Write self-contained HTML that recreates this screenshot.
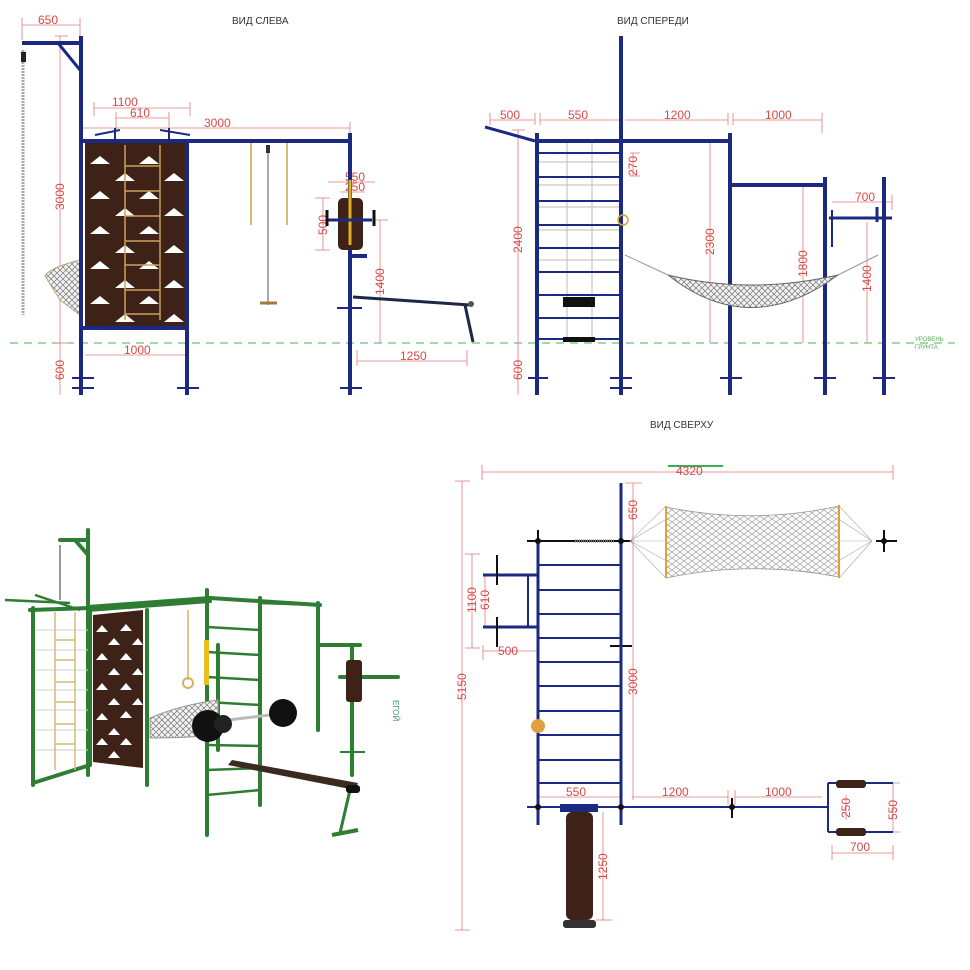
<!DOCTYPE html>
<html><head><meta charset="utf-8"><style>
html,body{margin:0;padding:0;background:#fff;}
svg{display:block;font-family:"Liberation Sans","DejaVu Sans",sans-serif;}
.n{stroke:#1b2a80;fill:none;}
.d{stroke:#e07a7a;stroke-width:0.8;fill:none;}
.t{fill:#d84848;font-size:12px;}
.h{fill:#333;font-size:10px;}
.g{stroke:#2e7d32;fill:none;}
.tri{fill:#fff;}
</style></head><body>
<svg width="970" height="970" viewBox="0 0 970 970" xmlns="http://www.w3.org/2000/svg">
<defs>
<pattern id="net" width="6" height="6" patternUnits="userSpaceOnUse">
<rect width="6" height="6" fill="#f2f2f2"/>
<path d="M0 0 L6 6 M6 0 L0 6" stroke="#777" stroke-width="0.7"/>
</pattern>
<pattern id="net2" width="8" height="6" patternUnits="userSpaceOnUse">
<rect width="8" height="6" fill="#fafafa"/>
<path d="M0 0 L8 6 M8 0 L0 6" stroke="#999" stroke-width="0.6"/>
</pattern>
</defs>
<!-- titles -->
<text x="232" y="24" class="h">ВИД СЛЕВА</text>
<text x="617" y="24" class="h">ВИД СПЕРЕДИ</text>
<text x="650" y="428" class="h">ВИД СВЕРХУ</text>

<!-- ground line -->
<line x1="10" y1="343" x2="955" y2="343" stroke="#4caf50" stroke-width="1" stroke-dasharray="8,6"/>
<text x="915" y="341" fill="#4caf50" font-size="6">УРОВЕНЬ</text>
<text x="915" y="349" fill="#4caf50" font-size="6">ГРУНТА</text>

<!-- ===== LEFT VIEW ===== -->
<g class="d">
<line x1="22" y1="25" x2="80" y2="25"/><line x1="22" y1="18" x2="22" y2="40"/><line x1="80" y1="18" x2="80" y2="40"/>
<line x1="60" y1="36" x2="60" y2="395"/><line x1="55" y1="36" x2="68" y2="36"/><line x1="55" y1="343" x2="68" y2="343"/>
<line x1="94" y1="108" x2="190" y2="108"/><line x1="94" y1="102" x2="94" y2="116"/><line x1="190" y1="102" x2="190" y2="116"/>
<line x1="116" y1="118" x2="169" y2="118"/><line x1="116" y1="112" x2="116" y2="130"/><line x1="169" y1="112" x2="169" y2="130"/>
<line x1="83" y1="128" x2="350" y2="128"/><line x1="350" y1="122" x2="350" y2="134"/>
<line x1="85" y1="355" x2="187" y2="355"/>
<line x1="357" y1="361" x2="467" y2="361"/><line x1="357" y1="350" x2="357" y2="366"/><line x1="467" y1="350" x2="467" y2="366"/>
<line x1="380" y1="220" x2="380" y2="343"/><line x1="374" y1="220" x2="388" y2="220"/>
<line x1="323" y1="198" x2="323" y2="250"/><line x1="315" y1="198" x2="330" y2="198"/><line x1="315" y1="250" x2="330" y2="250"/>
<line x1="328" y1="182" x2="375" y2="182"/><line x1="340" y1="192" x2="365" y2="192"/>
</g>
<text x="38" y="24" class="t">650</text>
<text x="112" y="106" class="t">1100</text>
<text x="130" y="117" class="t">610</text>
<text x="204" y="127" class="t">3000</text>
<text x="124" y="354" class="t">1000</text>
<text x="400" y="360" class="t">1250</text>
<text x="345" y="181" class="t" font-size="10">550</text>
<text x="345" y="191" class="t" font-size="10">250</text>
<text class="t" transform="translate(64,210) rotate(-90)">3000</text>
<text class="t" transform="translate(64,380) rotate(-90)">600</text>
<text class="t" transform="translate(384,295) rotate(-90)">1400</text>
<text class="t" transform="translate(327,235) rotate(-90)" font-size="10">500</text>

<line x1="23" y1="50" x2="23" y2="315" stroke="#aaa" stroke-width="3" stroke-dasharray="2,1"/>
<rect x="21" y="52" width="5" height="10" fill="#222"/>
<path d="M80 260 C60 265 48 270 45 276 L60 300 L80 315 Z" fill="url(#net)" stroke="#b9a67a" stroke-width="1"/>
<g class="n" stroke-width="4">
<line x1="81" y1="36" x2="81" y2="395"/>
<line x1="22" y1="43" x2="81" y2="43"/>
<line x1="187" y1="140" x2="187" y2="395"/>
<line x1="81" y1="141" x2="350" y2="141"/>
<line x1="81" y1="328" x2="187" y2="328"/>
<line x1="350" y1="133" x2="350" y2="395"/>
</g>
<line x1="58" y1="43" x2="80" y2="70" stroke="#1b2a80" stroke-width="3"/>
<g stroke="#1b2a80" stroke-width="2">
<line x1="72" y1="378" x2="94" y2="378"/><line x1="72" y1="388" x2="94" y2="388"/>
<line x1="177" y1="388" x2="199" y2="388"/>
<line x1="340" y1="388" x2="362" y2="388"/><line x1="337" y1="308" x2="362" y2="308"/>
<line x1="95" y1="135" x2="120" y2="130"/><line x1="160" y1="130" x2="190" y2="135"/>
<line x1="115" y1="128" x2="115" y2="140"/><line x1="169" y1="128" x2="169" y2="140"/>
</g>
<rect x="85" y="143" width="100" height="183" fill="#3e2218"/>
<g class="tri">
<polygon points="90,164 100,156 110,164"/><polygon points="139,164 149,156 159,164"/>
<polygon points="90,199 100,191 110,199"/><polygon points="139,199 149,191 159,199"/>
<polygon points="90,234 100,226 110,234"/><polygon points="139,234 149,226 159,234"/>
<polygon points="90,269 100,261 110,269"/><polygon points="139,269 149,261 159,269"/>
<polygon points="90,304 100,296 110,304"/>
<polygon points="115,181 125,173 135,181"/><polygon points="164,181 174,173 184,181"/>
<polygon points="115,216 125,208 135,216"/><polygon points="164,216 174,208 184,216"/>
<polygon points="115,253 125,245 135,253"/><polygon points="164,253 174,245 184,253"/>
<polygon points="115,288 125,280 135,288"/><polygon points="164,288 174,280 184,288"/>
<polygon points="115,322 125,314 135,322"/><polygon points="164,322 174,314 184,322"/>
<polygon points="139,304 149,296 159,304"/>
</g>
<g stroke="#c9a25a" stroke-width="1.5">
<line x1="125" y1="145" x2="125" y2="320"/><line x1="160" y1="145" x2="160" y2="320"/>
<line x1="125" y1="166" x2="160" y2="166"/><line x1="125" y1="191" x2="160" y2="191"/><line x1="125" y1="216" x2="160" y2="216"/>
<line x1="125" y1="241" x2="160" y2="241"/><line x1="125" y1="265" x2="160" y2="265"/><line x1="125" y1="290" x2="160" y2="290"/><line x1="125" y1="314" x2="160" y2="314"/>
</g>
<line x1="251" y1="143" x2="251" y2="225" stroke="#c9a640" stroke-width="1.5"/>
<line x1="287" y1="143" x2="287" y2="225" stroke="#c9a640" stroke-width="1.5"/>
<line x1="268" y1="145" x2="268" y2="305" stroke="#555" stroke-width="1"/>
<rect x="266" y="145" width="4" height="8" fill="#333"/>
<line x1="260" y1="303" x2="277" y2="303" stroke="#a07a40" stroke-width="3"/>
<rect x="338" y="198" width="25" height="52" rx="5" fill="#3e2218"/>
<line x1="350" y1="180" x2="350" y2="245" stroke="#e0b020" stroke-width="3"/>
<line x1="327" y1="220" x2="372" y2="220" stroke="#1b2a80" stroke-width="3"/>
<line x1="327" y1="210" x2="327" y2="226" stroke="#111" stroke-width="3"/>
<line x1="374" y1="210" x2="374" y2="226" stroke="#111" stroke-width="3"/>
<line x1="352" y1="256" x2="367" y2="256" stroke="#1b2a80" stroke-width="4"/>
<line x1="353" y1="297" x2="470" y2="305" stroke="#1f2748" stroke-width="3"/>
<line x1="465" y1="305" x2="473" y2="342" stroke="#1f2748" stroke-width="3"/>
<circle cx="471" cy="304" r="3" fill="#555"/>

<!-- ===== FRONT VIEW ===== -->
<g class="d">
<line x1="490" y1="120" x2="535" y2="120"/><line x1="490" y1="113" x2="490" y2="125"/><line x1="535" y1="113" x2="535" y2="125"/>
<line x1="540" y1="120" x2="620" y2="120"/><line x1="540" y1="113" x2="540" y2="125"/><line x1="620" y1="113" x2="620" y2="125"/>
<line x1="625" y1="120" x2="728" y2="120"/><line x1="728" y1="113" x2="728" y2="125"/>
<line x1="733" y1="120" x2="822" y2="120"/><line x1="733" y1="113" x2="733" y2="125"/><line x1="822" y1="113" x2="822" y2="133"/>
<line x1="633" y1="153" x2="633" y2="176"/><line x1="630" y1="153" x2="640" y2="153"/><line x1="630" y1="176" x2="640" y2="176"/>
<line x1="710" y1="141" x2="710" y2="343"/><line x1="706" y1="141" x2="730" y2="141"/>
<line x1="803" y1="185" x2="803" y2="343"/>
<line x1="867" y1="222" x2="867" y2="343"/>
<line x1="518" y1="130" x2="518" y2="395"/><line x1="512" y1="130" x2="525" y2="130"/>
<line x1="832" y1="202" x2="892" y2="202"/><line x1="892" y1="195" x2="892" y2="210"/>
</g>
<text x="500" y="119" class="t">500</text>
<text x="568" y="119" class="t">550</text>
<text x="664" y="119" class="t">1200</text>
<text x="765" y="119" class="t">1000</text>
<text x="855" y="201" class="t">700</text>
<text class="t" transform="translate(637,176) rotate(-90)" font-size="10">270</text>
<text class="t" transform="translate(714,255) rotate(-90)">2300</text>
<text class="t" transform="translate(807,277) rotate(-90)">1800</text>
<text class="t" transform="translate(871,292) rotate(-90)">1400</text>
<text class="t" transform="translate(522,253) rotate(-90)">2400</text>
<text class="t" transform="translate(522,380) rotate(-90)">600</text>
<g stroke="#bbb" stroke-width="1">
<line x1="567" y1="140" x2="567" y2="340"/><line x1="592" y1="140" x2="592" y2="340"/>
<line x1="537" y1="162" x2="621" y2="162"/><line x1="537" y1="185" x2="621" y2="185"/><line x1="537" y1="207" x2="621" y2="207"/><line x1="537" y1="230" x2="621" y2="230"/><line x1="537" y1="260" x2="621" y2="260"/>
</g>
<g stroke="#1b2a80" stroke-width="2">
<line x1="537" y1="153" x2="621" y2="153"/><line x1="537" y1="177" x2="621" y2="177"/><line x1="537" y1="201" x2="621" y2="201"/><line x1="537" y1="225" x2="621" y2="225"/><line x1="537" y1="248" x2="621" y2="248"/><line x1="537" y1="272" x2="621" y2="272"/><line x1="537" y1="295" x2="621" y2="295"/><line x1="537" y1="318" x2="621" y2="318"/><line x1="537" y1="339" x2="621" y2="339"/>
<line x1="485" y1="127" x2="535" y2="141" stroke-width="3"/>
<line x1="528" y1="378" x2="548" y2="378"/><line x1="610" y1="378" x2="632" y2="378"/><line x1="610" y1="388" x2="632" y2="388"/>
<line x1="720" y1="378" x2="742" y2="378"/><line x1="814" y1="378" x2="836" y2="378"/><line x1="873" y1="378" x2="895" y2="378"/>
<line x1="829" y1="218" x2="892" y2="218" stroke-width="3"/>
<line x1="832" y1="210" x2="832" y2="247"/><line x1="877" y1="207" x2="877" y2="222" stroke-width="3"/>
</g>
<g class="n" stroke-width="4">
<line x1="537" y1="133" x2="537" y2="395"/>
<line x1="621" y1="36" x2="621" y2="395"/>
<line x1="537" y1="141" x2="730" y2="141"/>
<line x1="730" y1="133" x2="730" y2="395"/>
<line x1="730" y1="185" x2="825" y2="185"/>
<line x1="825" y1="177" x2="825" y2="395"/>
<line x1="884" y1="177" x2="884" y2="395"/>
</g>
<rect x="563" y="297" width="32" height="10" fill="#111"/>
<rect x="563" y="337" width="32" height="5" fill="#111"/>
<circle cx="623" cy="220" r="5" fill="none" stroke="#d8a030" stroke-width="1.5"/>
<path d="M625 255 L668 275 M878 255 L838 275" stroke="#999" stroke-width="1"/>
<path d="M668 275 Q750 340 838 275 Q750 295 668 275 Z" fill="url(#net)" stroke="#666" stroke-width="1"/>

<!-- ===== 3D VIEW ===== -->
<g class="g" stroke-width="4" stroke-linecap="round">
<line x1="88" y1="530" x2="88" y2="775"/>
<line x1="60" y1="540" x2="88" y2="540"/>
<line x1="75" y1="540" x2="88" y2="555"/>
<line x1="33" y1="608" x2="33" y2="785"/>
<line x1="147" y1="610" x2="147" y2="785"/>
<line x1="90" y1="608" x2="90" y2="765"/>
<line x1="30" y1="610" x2="90" y2="608"/>
<line x1="88" y1="607" x2="210" y2="598"/>
<line x1="88" y1="610" x2="210" y2="601"/>
<line x1="210" y1="598" x2="320" y2="605"/>
<line x1="207" y1="590" x2="207" y2="835"/>
<line x1="260" y1="598" x2="260" y2="805"/>
<line x1="318" y1="603" x2="318" y2="730"/>
<line x1="218" y1="645" x2="218" y2="750"/>
<line x1="320" y1="645" x2="360" y2="645"/>
<line x1="352" y1="645" x2="352" y2="775"/>
<line x1="340" y1="677" x2="398" y2="677"/>
<line x1="33" y1="783" x2="90" y2="765"/>
</g>
<g stroke="#2e7d32" stroke-width="2.5">
<line x1="207" y1="627" x2="260" y2="630"/><line x1="207" y1="652" x2="260" y2="655"/><line x1="207" y1="677" x2="260" y2="680"/><line x1="207" y1="702" x2="260" y2="705"/><line x1="207" y1="745" x2="260" y2="746"/><line x1="207" y1="770" x2="260" y2="768"/><line x1="207" y1="795" x2="260" y2="790"/>
<line x1="260" y1="603" x2="320" y2="605"/>
<line x1="5" y1="600" x2="70" y2="603"/><line x1="35" y1="595" x2="80" y2="610"/>
</g>
<g stroke="#ccc" stroke-width="1">
<line x1="36" y1="630" x2="88" y2="630"/><line x1="36" y1="650" x2="88" y2="650"/><line x1="36" y1="670" x2="88" y2="670"/><line x1="36" y1="690" x2="88" y2="690"/><line x1="36" y1="710" x2="88" y2="710"/><line x1="36" y1="730" x2="88" y2="730"/><line x1="36" y1="750" x2="88" y2="750"/>
<line x1="60" y1="545" x2="60" y2="600" stroke="#999" stroke-width="2"/>
</g>
<g stroke="#d8b878" stroke-width="1.5">
<line x1="55" y1="612" x2="55" y2="770"/><line x1="75" y1="612" x2="75" y2="770"/>
<line x1="55" y1="640" x2="75" y2="640"/><line x1="55" y1="660" x2="75" y2="660"/><line x1="55" y1="682" x2="75" y2="682"/><line x1="55" y1="702" x2="75" y2="702"/><line x1="55" y1="724" x2="75" y2="724"/><line x1="55" y1="744" x2="75" y2="744"/>
</g>
<polygon points="93,615 143,610 143,768 93,762" fill="#3e2218"/>
<g class="tri">
<polygon points="96,632 102,625 108,632"/><polygon points="120,631 126,624 132,631"/>
<polygon points="108,645 114,638 120,645"/><polygon points="132,645 138,638 143,645"/>
<polygon points="96,660 102,653 108,660"/><polygon points="120,660 126,653 132,660"/>
<polygon points="108,675 114,668 120,675"/><polygon points="132,675 138,668 143,675"/>
<polygon points="96,690 102,683 108,690"/><polygon points="120,690 126,683 132,690"/>
<polygon points="108,705 114,698 120,705"/><polygon points="132,705 138,698 143,705"/>
<polygon points="96,720 102,713 108,720"/><polygon points="120,718 126,711 132,718"/>
<polygon points="108,735 114,728 120,735"/><polygon points="96,745 102,738 108,745"/><polygon points="120,745 126,738 132,745"/>
<polygon points="108,758 114,751 120,758"/>
</g>
<line x1="188" y1="610" x2="188" y2="680" stroke="#d8b060" stroke-width="1.5"/>
<circle cx="188" cy="683" r="5" fill="none" stroke="#d8b060" stroke-width="2"/>
<rect x="204" y="640" width="5" height="45" fill="#e8c020"/>
<path d="M150 718 Q180 705 218 700 L218 735 Q185 738 150 738 Z" fill="url(#net)" stroke="#999" stroke-width="1"/>
<line x1="195" y1="724" x2="295" y2="712" stroke="#bbb" stroke-width="3"/>
<circle cx="208" cy="726" r="16" fill="#111"/>
<circle cx="223" cy="724" r="9" fill="#222"/>
<circle cx="283" cy="713" r="14" fill="#111"/>
<polygon points="228,765 232,760 358,783 355,790" fill="#3a2a20"/>
<line x1="350" y1="790" x2="340" y2="833" stroke="#2e7d32" stroke-width="3"/>
<line x1="332" y1="835" x2="358" y2="830" stroke="#2e7d32" stroke-width="4"/>
<rect x="346" y="785" width="14" height="8" rx="3" fill="#111"/>
<rect x="346" y="660" width="16" height="42" rx="3" fill="#3e2218"/>
<line x1="340" y1="752" x2="365" y2="752" stroke="#2e7d32" stroke-width="2"/>
<text transform="translate(393,700) rotate(90)" fill="#3a9a70" font-size="8">ЕГОЙ</text>

<!-- ===== TOP VIEW ===== -->
<line x1="668" y1="466" x2="723" y2="466" stroke="#3ab050" stroke-width="2"/>
<g class="d">
<line x1="482" y1="472" x2="893" y2="472"/><line x1="482" y1="465" x2="482" y2="480"/><line x1="893" y1="465" x2="893" y2="480"/>
<line x1="462" y1="481" x2="462" y2="930"/><line x1="455" y1="481" x2="470" y2="481"/><line x1="455" y1="930" x2="470" y2="930"/>
<line x1="633" y1="483" x2="633" y2="800"/><line x1="625" y1="483" x2="642" y2="483"/>
<line x1="472" y1="554" x2="472" y2="648"/><line x1="465" y1="554" x2="480" y2="554"/><line x1="465" y1="648" x2="480" y2="648"/>
<line x1="485" y1="575" x2="485" y2="627"/>
<line x1="483" y1="651" x2="537" y2="651"/><line x1="483" y1="645" x2="483" y2="660"/>
<line x1="538" y1="797" x2="620" y2="797"/>
<line x1="632" y1="797" x2="728" y2="797"/><line x1="728" y1="790" x2="728" y2="805"/>
<line x1="735" y1="797" x2="822" y2="797"/><line x1="735" y1="790" x2="735" y2="805"/>
<line x1="603" y1="812" x2="603" y2="920"/><line x1="596" y1="920" x2="612" y2="920"/>
<line x1="893" y1="783" x2="893" y2="832"/><line x1="882" y1="783" x2="900" y2="783"/><line x1="882" y1="832" x2="900" y2="832"/>
<line x1="832" y1="853" x2="893" y2="853"/><line x1="832" y1="845" x2="832" y2="860"/><line x1="893" y1="845" x2="893" y2="860"/>
<line x1="846" y1="795" x2="846" y2="820"/>
</g>
<text x="676" y="475" class="t">4320</text>
<text x="498" y="655" class="t">500</text>
<text x="566" y="796" class="t">550</text>
<text x="662" y="796" class="t">1200</text>
<text x="765" y="796" class="t">1000</text>
<text x="850" y="851" class="t">700</text>
<text class="t" transform="translate(466,700) rotate(-90)">5150</text>
<text class="t" transform="translate(637,520) rotate(-90)">650</text>
<text class="t" transform="translate(637,695) rotate(-90)">3000</text>
<text class="t" transform="translate(476,613) rotate(-90)">1100</text>
<text class="t" transform="translate(489,610) rotate(-90)" font-size="10">610</text>
<text class="t" transform="translate(607,880) rotate(-90)">1250</text>
<text class="t" transform="translate(850,818) rotate(-90)" font-size="10">250</text>
<text class="t" transform="translate(897,820) rotate(-90)">550</text>
<g stroke="#1b2a80" stroke-width="2">
<line x1="538" y1="565" x2="621" y2="565"/><line x1="538" y1="590" x2="621" y2="590"/><line x1="538" y1="614" x2="621" y2="614"/><line x1="538" y1="638" x2="621" y2="638"/><line x1="538" y1="662" x2="621" y2="662"/><line x1="538" y1="686" x2="621" y2="686"/><line x1="538" y1="711" x2="621" y2="711"/><line x1="538" y1="735" x2="621" y2="735"/><line x1="538" y1="760" x2="621" y2="760"/><line x1="538" y1="783" x2="621" y2="783"/>
<line x1="483" y1="575" x2="538" y2="575" stroke-width="3"/><line x1="483" y1="627" x2="538" y2="627" stroke-width="3"/>
<line x1="528" y1="575" x2="528" y2="627"/>
<line x1="828" y1="783" x2="828" y2="832"/><line x1="828" y1="783" x2="893" y2="783"/><line x1="828" y1="832" x2="893" y2="832"/>
</g>
<g stroke="#111" stroke-width="2">
<line x1="497" y1="555" x2="497" y2="585"/><line x1="497" y1="617" x2="497" y2="647"/>
<line x1="527" y1="541" x2="632" y2="541"/>
<line x1="538" y1="530" x2="538" y2="552"/>
<line x1="527" y1="807" x2="538" y2="807"/><line x1="538" y1="800" x2="538" y2="825"/><line x1="621" y1="800" x2="621" y2="825"/>
<line x1="732" y1="798" x2="732" y2="818"/><line x1="876" y1="541" x2="897" y2="541"/><line x1="884" y1="530" x2="884" y2="552"/>
<line x1="610" y1="646" x2="632" y2="646"/>
</g>
<g class="n" stroke-width="3">
<line x1="538" y1="541" x2="538" y2="825"/>
<line x1="621" y1="483" x2="621" y2="825"/>
<line x1="527" y1="807" x2="828" y2="807" stroke-width="2"/>
</g>
<line x1="575" y1="541" x2="615" y2="541" stroke="#777" stroke-width="3" stroke-dasharray="1,1"/>
<circle cx="538" cy="541" r="3" fill="#111"/><circle cx="621" cy="541" r="3" fill="#111"/>
<circle cx="538" cy="807" r="3" fill="#111"/><circle cx="621" cy="807" r="3" fill="#111"/><circle cx="732" cy="807" r="3" fill="#111"/><circle cx="884" cy="541" r="3" fill="#111"/>
<circle cx="538" cy="726" r="7" fill="#e0a040"/>
<rect x="836" y="780" width="30" height="8" rx="3" fill="#3e2218"/>
<rect x="836" y="828" width="30" height="8" rx="3" fill="#3e2218"/>
<g stroke="#aaa" stroke-width="0.6">
<line x1="630" y1="541" x2="665" y2="507"/><line x1="630" y1="541" x2="665" y2="520"/><line x1="630" y1="541" x2="665" y2="541"/><line x1="630" y1="541" x2="665" y2="560"/><line x1="630" y1="541" x2="665" y2="577"/>
<line x1="872" y1="541" x2="840" y2="507"/><line x1="872" y1="541" x2="840" y2="520"/><line x1="872" y1="541" x2="840" y2="541"/><line x1="872" y1="541" x2="840" y2="560"/><line x1="872" y1="541" x2="840" y2="577"/>
</g>
<path d="M666 507 Q752 525 839 506 L839 577 Q752 560 666 578 Z" fill="url(#net2)" stroke="#999" stroke-width="0.8"/>
<line x1="666" y1="506" x2="666" y2="578" stroke="#e0a040" stroke-width="2"/>
<line x1="839" y1="505" x2="839" y2="578" stroke="#e0a040" stroke-width="2"/>
<rect x="560" y="804" width="38" height="8" fill="#1b2a80"/>
<rect x="566" y="812" width="27" height="108" rx="6" fill="#3e2218"/>
<rect x="563" y="920" width="33" height="8" rx="3" fill="#333"/>
</svg>
</body></html>
